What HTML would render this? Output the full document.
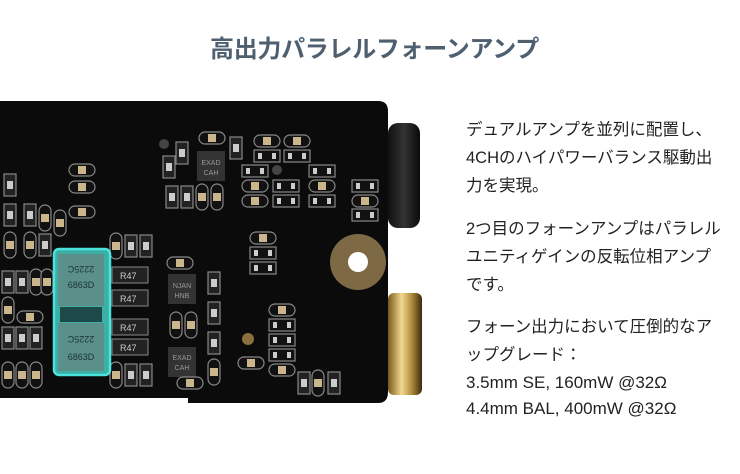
<!DOCTYPE html>
<html><head><meta charset="utf-8"><style>
body{margin:0;width:740px;height:474px;background:#fff;overflow:hidden;position:relative;font-family:"Liberation Sans","Noto Sans CJK JP",sans-serif}
.t{position:absolute;left:210px;top:29px;font-size:24px;font-weight:bold;color:#4e5f70;letter-spacing:-0.3px;white-space:nowrap}
.p{position:absolute;left:466px;font-size:16.5px;color:#222;line-height:28px;white-space:nowrap}
svg{position:absolute;left:0;top:0}
</style></head><body>
<div class="t">高出力パラレルフォーンアンプ</div>
<div class="p" style="top:116px">デュアルアンプを並列に配置し、<br>4CHのハイパワーバランス駆動出<br>力を実現。</div>
<div class="p" style="top:215px">2つ目のフォーンアンプはパラレル<br>ユニティゲインの反転位相アンプ<br>です。</div>
<div class="p" style="top:313px">フォーン出力において圧倒的なア<br>ップグレード：</div>
<div class="p" style="top:370px;font-size:17px;line-height:26px">3.5mm SE, 160mW @32Ω<br>4.4mm BAL, 400mW @32Ω</div>
<svg width="740" height="474" viewBox="0 0 740 474">
<defs>
<linearGradient id="g" x1="0" x2="1"><stop offset="0" stop-color="#7a5a1a"/><stop offset=".4" stop-color="#f0d890"/><stop offset=".7" stop-color="#b08a3a"/><stop offset="1" stop-color="#3a2a10"/></linearGradient>
<linearGradient id="bk" x1="0" x2="1"><stop offset="0" stop-color="#111"/><stop offset=".5" stop-color="#333"/><stop offset="1" stop-color="#0a0a0a"/></linearGradient>
<g id="r"><rect x="-6" y="-11" width="12" height="22" fill="#222" stroke="#888" stroke-width="1.2"/><rect x="-3" y="-4" width="6" height="8" fill="#ccc"/></g>
<g id="c"><rect x="-13" y="-6" width="26" height="12" rx="6" fill="#111" stroke="#888" stroke-width="1.2"/><rect x="-4" y="-4" width="8" height="8" fill="#cbb58a"/></g>
<g id="cv"><rect x="-6" y="-13" width="12" height="26" rx="6" fill="#111" stroke="#888" stroke-width="1.2"/><rect x="-4" y="-4" width="8" height="8" fill="#cbb58a"/></g>
<g id="h"><rect x="-13" y="-6" width="26" height="12" fill="#111" stroke="#888" stroke-width="1.2"/><rect x="-9" y="-3" width="4" height="6" fill="#ccc"/><rect x="5" y="-3" width="4" height="6" fill="#ccc"/></g>
</defs>
<rect x="388" y="123" width="32" height="105" rx="10" fill="url(#bk)"/>
<rect x="388" y="293" width="34" height="102" rx="6" fill="url(#g)"/>
<path d="M0 101 H378 Q388 101 388 111 V392 Q388 403 378 403 H188 V398 H0Z" fill="#0b0b0b"/>
<circle cx="358" cy="262" r="28" fill="#7d6a45"/><circle cx="358" cy="262" r="10" fill="#fff"/>
<g>
<use href="#r" x="182" y="153"/><use href="#r" x="169" y="167"/><use href="#c" x="212" y="138"/><use href="#r" x="236" y="148"/>
<use href="#c" x="267" y="141"/><use href="#c" x="297" y="141"/><use href="#h" x="267" y="156"/><use href="#h" x="297" y="156"/>
<use href="#h" x="255" y="171"/><use href="#c" x="255" y="186"/><use href="#c" x="255" y="201"/><use href="#h" x="286" y="186"/><use href="#h" x="286" y="201"/>
<use href="#h" x="322" y="171"/><use href="#c" x="322" y="186"/><use href="#h" x="322" y="201"/><use href="#h" x="365" y="186"/><use href="#c" x="365" y="201"/><use href="#h" x="365" y="215"/>
<use href="#r" x="172" y="197"/><use href="#r" x="187" y="197"/><use href="#cv" x="202" y="197"/><use href="#cv" x="217" y="197"/>
<rect x="197" y="151" width="28" height="30" fill="#333"/><text x="211" y="165" font-size="7" fill="#999" text-anchor="middle">EXAD</text><text x="211" y="175" font-size="7" fill="#999" text-anchor="middle">CAH</text>
<use href="#c" x="82" y="170"/><use href="#c" x="82" y="187"/><use href="#c" x="82" y="212"/>
<use href="#r" x="10" y="185"/><use href="#r" x="10" y="215"/><use href="#r" x="30" y="215"/><use href="#cv" x="45" y="218"/><use href="#cv" x="60" y="223"/>
<use href="#cv" x="10" y="245"/><use href="#cv" x="30" y="245"/><use href="#r" x="45" y="245"/>
<use href="#r" x="8" y="282"/><use href="#r" x="22" y="282"/><use href="#cv" x="36" y="282"/><use href="#cv" x="47" y="282"/>
<use href="#cv" x="8" y="310"/><use href="#c" x="30" y="317"/><use href="#r" x="8" y="338"/><use href="#r" x="22" y="338"/><use href="#r" x="36" y="338"/>
<use href="#cv" x="8" y="375"/><use href="#cv" x="22" y="375"/><use href="#cv" x="36" y="375"/>
<use href="#cv" x="116" y="246"/><use href="#r" x="131" y="246"/><use href="#r" x="146" y="246"/>
<use href="#cv" x="116" y="375"/><use href="#r" x="131" y="375"/><use href="#r" x="146" y="375"/>
<g font-size="9" fill="#ccc"><rect x="112" y="267" width="36" height="16" fill="#222" stroke="#888"/><text x="120" y="279">R47</text>
<rect x="112" y="290" width="36" height="16" fill="#222" stroke="#888"/><text x="120" y="302">R47</text>
<rect x="112" y="319" width="36" height="16" fill="#222" stroke="#888"/><text x="120" y="331">R47</text>
<rect x="112" y="339" width="36" height="16" fill="#222" stroke="#888"/><text x="120" y="351">R47</text></g>
<use href="#c" x="180" y="263"/><rect x="168" y="274" width="28" height="30" fill="#333"/><text x="182" y="288" font-size="7" fill="#999" text-anchor="middle">NJAN</text><text x="182" y="298" font-size="7" fill="#999" text-anchor="middle">HNB</text>
<use href="#cv" x="176" y="325"/><use href="#cv" x="191" y="325"/>
<rect x="168" y="347" width="28" height="30" fill="#333"/><text x="182" y="360" font-size="7" fill="#999" text-anchor="middle">EXAD</text><text x="182" y="370" font-size="7" fill="#999" text-anchor="middle">CAH</text>
<use href="#c" x="190" y="383"/><use href="#r" x="214" y="283"/><use href="#r" x="214" y="313"/><use href="#r" x="214" y="343"/><use href="#cv" x="214" y="372"/>
<use href="#c" x="263" y="238"/><use href="#h" x="263" y="253"/><use href="#h" x="263" y="268"/>
<use href="#c" x="282" y="310"/><use href="#h" x="282" y="325"/><use href="#h" x="282" y="340"/><use href="#h" x="282" y="355"/><use href="#c" x="282" y="370"/>
<use href="#c" x="251" y="363"/><use href="#r" x="304" y="383"/><use href="#cv" x="318" y="383"/><use href="#r" x="334" y="383"/>
<circle cx="248" cy="339" r="6" fill="#8a7040"/><circle cx="164" cy="144" r="5" fill="#444"/><circle cx="277" cy="170" r="5" fill="#444"/>
</g>
<rect x="54" y="249" width="56" height="126" rx="5" fill="#3fb8b0" stroke="#4ff0e8" stroke-width="2.5" opacity=".95"/>
<rect x="58" y="254" width="46" height="52" fill="#5a8f8a"/><rect x="58" y="323" width="46" height="48" fill="#5a8f8a"/>
<rect x="60" y="307" width="42" height="15" fill="#1d4a48"/>
<g font-size="9" fill="#1d3533" text-anchor="middle"><text x="81" y="272" transform="rotate(180 81 269)">2225C</text><text x="81" y="288">6863D</text><text x="81" y="342" transform="rotate(180 81 339)">2225C</text><text x="81" y="360">6863D</text></g>
</svg>
</body></html>
